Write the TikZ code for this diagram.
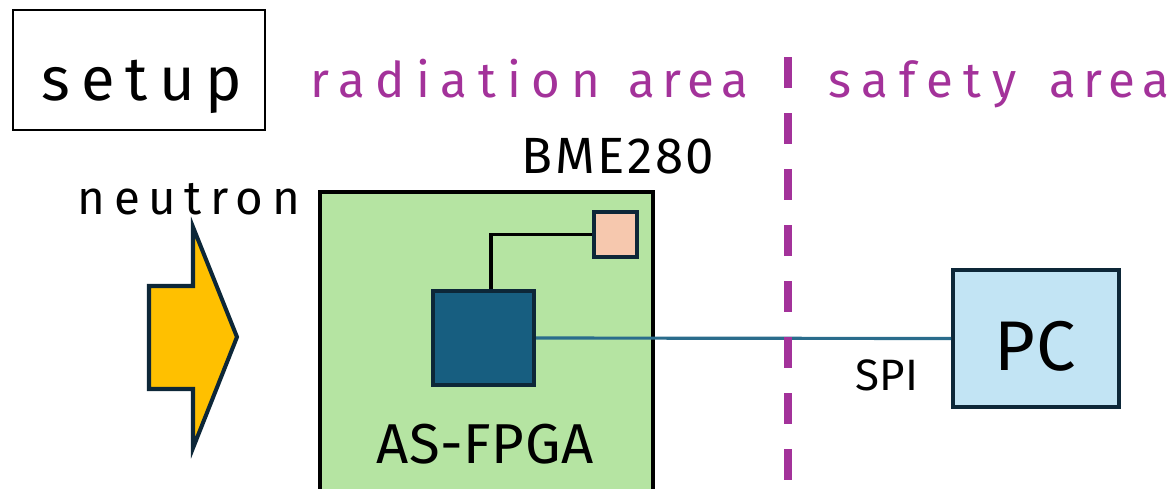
\documentclass[tikz,border=0pt]{standalone}
\usepackage{fontspec}
\usetikzlibrary{calc}
\newfontfamily\hand[LetterSpace=18]{Fira Sans}
\newfontfamily\handr[LetterSpace=22]{Fira Sans}
\newfontfamily\handa[LetterSpace=15]{Fira Sans}
\newfontfamily\hands[LetterSpace=22]{Fira Sans}
\newfontfamily\handb[LetterSpace=5]{Fira Sans}
\newfontfamily\handc[LetterSpace=1]{Fira Sans}
\definecolor{navy}{HTML}{0D2738}
\definecolor{purp}{HTML}{A3329A}
\definecolor{board}{HTML}{B5E4A2}
\definecolor{chipc}{HTML}{175E80}
\definecolor{sens}{HTML}{F6C8AE}
\definecolor{pcc}{HTML}{C2E4F4}
\definecolor{amber}{HTML}{FFC000}
\definecolor{spic}{HTML}{2A6C8C}
\newcommand{\fs}[1]{\fontsize{#1}{#1}\selectfont}
\tikzset{
  boxnode/.style={draw=navy,line width=2.3pt,inner sep=0pt},
  lbl/.style={anchor=base,inner sep=0pt,font=\hand},
  area/.style={anchor=base west,inner sep=0pt,text=purp},
}
\begin{document}
\begin{tikzpicture}[x=0.02cm,y=-0.02cm]
\useasboundingbox (0,0) rectangle (1173,488);
\clip (0,0) rectangle (1173,488);
% setup box
\node[draw=black,line width=1.2pt,minimum width=252*0.569pt,minimum height=120*0.569pt,inner sep=0pt] (setupbox) at (139,70) {};
\node[lbl,font=\hand\fs{35}] (setup) at (142,100) {setup};
% area labels
\node[area,font=\handr\fs{28}] (rad) at (310,97) {radiation};
\node[area,font=\handa\fs{28}] (rada) at (628,97) {area};
\node[area,font=\hands\fs{28}] (saf) at (828,97) {safety};
\node[area,font=\handa\fs{28}] (safa) at (1049,97) {area};
% board
\node[draw=black,fill=board,line width=2.3pt,minimum width=333*0.569pt,minimum height=328*0.569pt,inner sep=0pt] (board) at (486.5,356) {};
\node[boxnode,fill=sens,minimum width=43*0.569pt,minimum height=45*0.569pt] (sensor) at (615.5,234.5) {};
\node[boxnode,fill=chipc,minimum width=101*0.569pt,minimum height=94*0.569pt] (chip) at (483.5,338) {};
\node[boxnode,fill=pcc,minimum width=166*0.569pt,minimum height=137*0.569pt] (pc) at (1036,338.5) {};
\draw[black,line width=1.8pt] ($(chip.north)+(7.5,0)$) |- (sensor.west);
\draw[spic,line width=1.8pt] (chip.east) -- (pc.west);
% divider
\coordinate (dtop) at (788,57);
\coordinate (dbot) at (788,520);
\draw[purp,line width=4pt,dash pattern=on 17.6pt off 14.3pt] (dtop) -- (dbot);
% labels
\node[lbl,font=\handb\fs{29}] (bme) at (618,173) {BME280};
\node[lbl,font=\hand\fs{27}] (neutron) at (189,214) {neutron};
\node[lbl,font=\handc\fs{32}] (fpga) at (485,463) {AS-FPGA};
\node[lbl,font=\handc\fs{40}] (pclbl) at (1035,370) {PC};
\node[lbl,font=\handc\fs{25}] (spi) at (887,390) {SPI};
% neutron arrow
\draw[fill=amber,draw=navy,line width=2.3pt,line join=miter]
  (149,286) -- (193,286) -- (193,227) -- (237,337) -- (193,448) -- (193,389) -- (149,389) -- cycle;
\end{tikzpicture}
\end{document}
